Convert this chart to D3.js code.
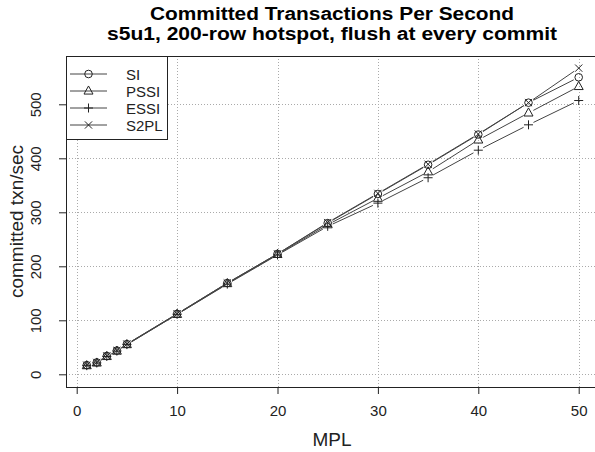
<!DOCTYPE html>
<html>
<head>
<meta charset="utf-8">
<script src="https://cdn.jsdelivr.net/npm/d3@7"></script>
<style>
  body { margin: 0; background: #fff; }
  svg { display: block; font-family: "Liberation Sans", Arial, sans-serif; }
</style>
</head>
<body>
<div id="chart"></div>
<script>
// data
var mpl = [1, 2, 3, 4, 5, 10, 15, 20, 25, 30, 35, 40, 45, 50];
var si   = [17, 22, 34, 44, 56, 112, 169, 223, 280, 334, 388, 444, 503, 550];
var pssi = [16, 21, 33, 43, 55, 111, 168, 222, 277, 326, 375, 434, 484, 533];
var essi = [16, 21, 33, 43, 55, 111, 167, 221, 274, 317, 364, 415, 462, 507];
var s2pl = [17, 22, 34, 44, 56, 112, 169, 223, 281, 335, 389, 445, 503, 567];
var seriesNames = ["SI", "PSSI", "ESSI", "S2PL"];
var seriesValues = [si, pssi, essi, s2pl];
var xTicks = [0, 10, 20, 30, 40, 50];
var yTicks = [0, 100, 200, 300, 400, 500];

var svgWidth = 595, svgHeight = 452;
// plot box (right edge runs off the picture)
var box = {left: 66, top: 56, right: 600, bottom: 387};

var svg = d3.select("#chart").append("svg")
    .attr("width", svgWidth)
    .attr("height", svgHeight);

var xScale = d3.scaleLinear().domain([0, 50]).range([76.7, 578.7]);
var yScale = d3.scaleLinear().domain([0, 500]).range([374.3, 104.3]);

// grid
var grid = svg.append("g")
    .attr("stroke", "#aaa")
    .attr("stroke-width", 1)
    .attr("stroke-dasharray", "1,2");
grid.selectAll("line.vx").data(xTicks).enter().append("line")
    .attr("x1", d => Math.round(xScale(d)) + 0.5).attr("x2", d => Math.round(xScale(d)) + 0.5)
    .attr("y1", box.top).attr("y2", box.bottom);
grid.selectAll("line.hy").data(yTicks).enter().append("line")
    .attr("y1", d => Math.round(yScale(d)) + 0.5).attr("y2", d => Math.round(yScale(d)) + 0.5)
    .attr("x1", box.left).attr("x2", box.right);

// axes
var bottomAxis = d3.axisBottom(xScale).tickValues(xTicks).tickSize(7).tickPadding(4);
var leftAxis = d3.axisLeft(yScale).tickValues(yTicks).tickSize(7).tickPadding(4);

var xAxis = svg.append("g")
    .attr("transform", `translate(0, ${box.bottom})`)
    .call(bottomAxis);
var yAxis = svg.append("g")
    .attr("transform", `translate(${box.left}, 0)`)
    .call(leftAxis);

[xAxis, yAxis].forEach(function(ax){
    ax.select(".domain").remove();
    ax.selectAll("line").attr("stroke", "#222");
    ax.selectAll("text").attr("fill", "#222").style("font-size", "15px")
      .style("font-family", "'Liberation Sans', Arial, sans-serif");
});
xAxis.selectAll("text").attr("dy", null).attr("y", 29);
yAxis.selectAll("text")
    .attr("text-anchor", "middle")
    .attr("dy", null)
    .attr("x", null)
    .attr("transform", "translate(-25, 0) rotate(-90)");

// box
svg.append("rect")
    .attr("x", box.left + 0.5).attr("y", box.top + 0.5)
    .attr("width", box.right - box.left).attr("height", box.bottom - box.top)
    .attr("fill", "none").attr("stroke", "#222");

// markers
function drawMarker(g, type, cx, cy){
    var s = 4.5;
    if (type == 0){
        g.append("circle").attr("cx", cx).attr("cy", cy).attr("r", 3.8);
    } else if (type == 1){
        var h = s * 1.8;
        g.append("path").attr("d", `M${cx},${cy - h*0.62}L${cx + s},${cy + h*0.38}L${cx - s},${cy + h*0.38}Z`);
    } else if (type == 2){
        g.append("path").attr("d", `M${cx - s},${cy}H${cx + s}M${cx},${cy - s}V${cy + s}`);
    } else {
        var t = 3.6;
        g.append("path").attr("d", `M${cx - t},${cy - t}L${cx + t},${cy + t}M${cx - t},${cy + t}L${cx + t},${cy - t}`);
    }
}

// lines, type "b": segments leave a gap around each point
var gap = 5.5;
seriesValues.forEach(function(vals, k){
    var pts = mpl.map((m, i) => [xScale(m), yScale(vals[i])]);
    var lg = svg.append("g").attr("stroke", "#444").attr("stroke-width", 1).attr("fill", "none");
    for (var i = 0; i < pts.length - 1; i++){
        var dx = pts[i+1][0] - pts[i][0], dy = pts[i+1][1] - pts[i][1];
        var len = Math.sqrt(dx*dx + dy*dy);
        if (len <= 2*gap) continue;
        var ux = dx/len, uy = dy/len;
        lg.append("line")
            .attr("x1", pts[i][0] + ux*gap).attr("y1", pts[i][1] + uy*gap)
            .attr("x2", pts[i+1][0] - ux*gap).attr("y2", pts[i+1][1] - uy*gap);
    }
    var mg = svg.append("g").attr("stroke", "#222").attr("stroke-width", 1).attr("fill", "none");
    pts.forEach(p => drawMarker(mg, k, p[0], p[1]));
});

// legend
var legend = svg.append("g");
legend.append("rect")
    .attr("x", box.left + 0.5).attr("y", box.top + 0.5)
    .attr("width", 101).attr("height", 83)
    .attr("fill", "#fff").attr("stroke", "#222");
seriesNames.forEach(function(name, k){
    var ry = 74 + k * 17;
    legend.append("line")
        .attr("x1", 70).attr("x2", 107).attr("y1", ry).attr("y2", ry)
        .attr("stroke", "#444");
    var mg = legend.append("g").attr("stroke", "#222").attr("fill", "none");
    drawMarker(mg, k, 88.5, ry);
    legend.append("text")
        .attr("x", 126).attr("y", ry + 5.5)
        .attr("fill", "#222")
        .style("font-size", "15px")
        .text(name);
});

// titles (wide glyphs in the original, so stretch to its widths)
var cx = (box.left + box.right) / 2 - 1;
svg.append("text")
    .attr("x", cx).attr("y", 19.5)
    .attr("text-anchor", "middle")
    .attr("textLength", 364).attr("lengthAdjust", "spacingAndGlyphs")
    .style("font-size", "17.5px").style("font-weight", "bold")
    .text("Committed Transactions Per Second");
svg.append("text")
    .attr("x", cx).attr("y", 40)
    .attr("text-anchor", "middle")
    .attr("textLength", 450).attr("lengthAdjust", "spacingAndGlyphs")
    .style("font-size", "17.5px").style("font-weight", "bold")
    .text("s5u1, 200-row hotspot, flush at every commit");

svg.append("text")
    .attr("x", cx).attr("y", 446)
    .attr("text-anchor", "middle")
    .attr("fill", "#222")
    .style("font-size", "19px")
    .text("MPL");
svg.append("text")
    .attr("transform", `translate(22.5, ${(box.top + box.bottom) / 2}) rotate(-90)`)
    .attr("text-anchor", "middle")
    .attr("fill", "#222")
    .style("font-size", "19px")
    .text("committed txn/sec");
</script>
</body>
</html>
